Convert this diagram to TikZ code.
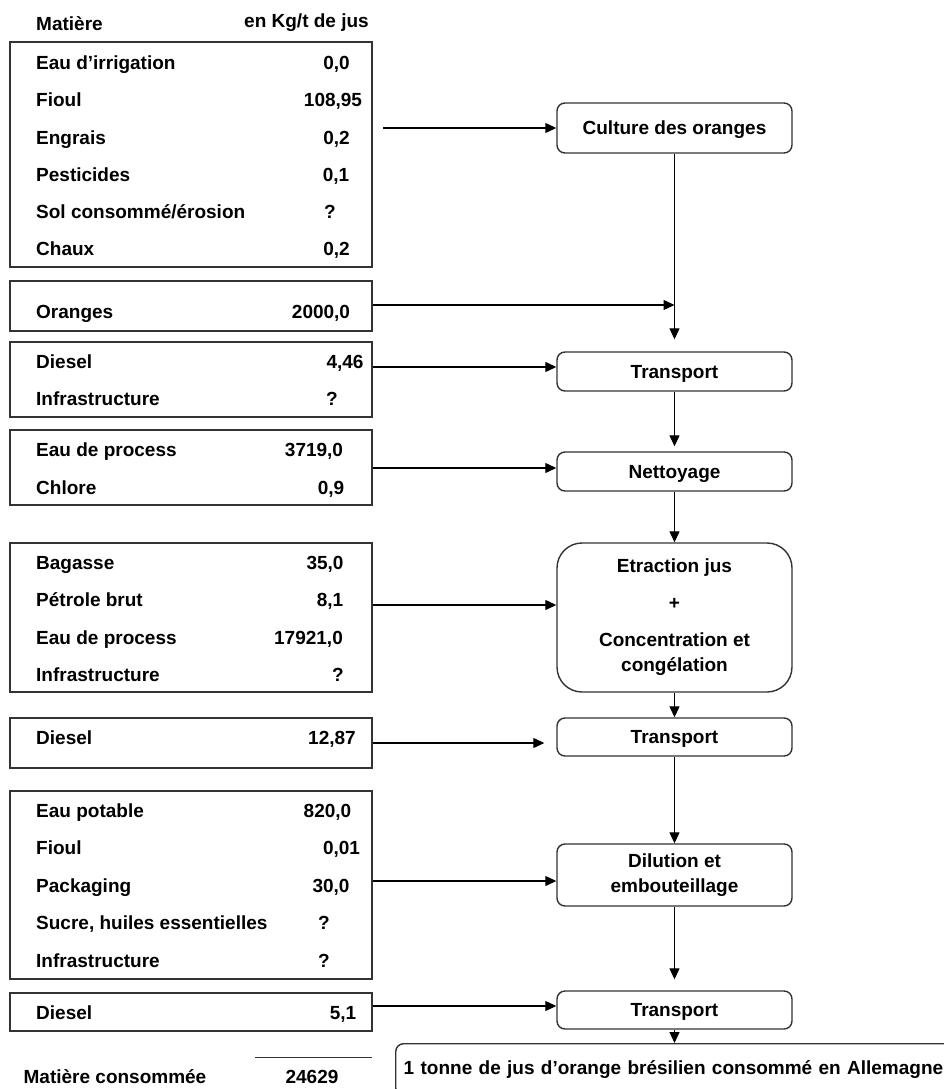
\documentclass[tikz,border=0pt]{standalone}
\usepackage{fontspec}
\setmainfont{Liberation Sans}
\usetikzlibrary{arrows.meta}
\begin{document}
\begin{tikzpicture}[x=1pt,y=-1pt,
  font=\fontsize{19}{23}\selectfont\bfseries,
  inbox/.style={draw=black!80, line width=1.4pt, minimum width=362pt, inner sep=0pt},
  proc/.style={draw=black!80, line width=1.4pt, rounded corners=8pt, minimum width=235pt, inner sep=0pt, align=center},
  oneline/.style={text height=13.6pt, text depth=0pt},
  lab/.style={anchor=west, inner sep=0pt, text height=13.6pt, text depth=0pt},
  val/.style={inner sep=0pt, text height=13.6pt, text depth=0pt},
  arr/.style={line width=1.2pt, -{Triangle[length=11pt,width=10pt]}},
]
\useasboundingbox (0,0) rectangle (944,1089);
\clip (0,0) rectangle (944,1089);

% headers
\node[lab] (hmat) at (36,24) {Matière};
\node[val] (hunit) at (306.5,21) {en Kg/t de jus};

% input boxes
\node[inbox, minimum height=225pt] (b1) at (191,154.5) {};
\node[inbox, minimum height=50pt] (b2) at (191,306) {};
\node[inbox, minimum height=75pt] (b3) at (191,379.5) {};
\node[inbox, minimum height=75pt] (b4) at (191,467.5) {};
\node[inbox, minimum height=149pt] (b5) at (191,617.5) {};
\node[inbox, minimum height=50pt] (b6) at (191,743) {};
\node[inbox, minimum height=188pt] (b7) at (191,885) {};
\node[inbox, minimum height=38pt] (b8) at (191,1012) {};

% box 1
\node[lab] (l11) at (36,63) {Eau d’irrigation};   \node[val] (v11) at (336.5,63) {0,0};
\node[lab] (l12) at (36,100) {Fioul};             \node[val] (v12) at (333,100) {108,95};
\node[lab] (l13) at (36,138) {Engrais};           \node[val] (v13) at (336.5,138) {0,2};
\node[lab] (l14) at (36,175) {Pesticides};        \node[val] (v14) at (336,175) {0,1};
\node[lab] (l15) at (36,212) {Sol consommé/érosion}; \node[val] (v15) at (330,212) {?};
\node[lab] (l16) at (36,249) {Chaux};             \node[val] (v16) at (336.5,249) {0,2};
% box 2
\node[lab] (l21) at (36,312) {Oranges};           \node[val] (v21) at (321,312) {2000,0};
% box 3
\node[lab] (l31) at (36,362) {Diesel};            \node[val] (v31) at (345,362) {4,46};
\node[lab] (l32) at (36,399) {Infrastructure};    \node[val] (v32) at (332,399) {?};
% box 4
\node[lab] (l41) at (36,450) {Eau de process};    \node[val] (v41) at (314,450) {3719,0};
\node[lab] (l42) at (36,488) {Chlore};            \node[val] (v42) at (331,488) {0,9};
% box 5
\node[lab] (l51) at (36,563) {Bagasse};           \node[val] (v51) at (325,563) {35,0};
\node[lab] (l52) at (36,600) {Pétrole brut};      \node[val] (v52) at (330,600) {8,1};
\node[lab] (l53) at (36,638) {Eau de process};    \node[val] (v53) at (308.5,638) {17921,0};
\node[lab] (l54) at (36,675) {Infrastructure};    \node[val] (v54) at (338,675) {?};
% box 6
\node[lab] (l61) at (36,738) {Diesel};            \node[val] (v61) at (332,738) {12,87};
% box 7
\node[lab] (l71) at (36,811) {Eau potable};       \node[val] (v71) at (327.5,811) {820,0};
\node[lab] (l72) at (36,848) {Fioul};             \node[val] (v72) at (341.5,848) {0,01};
\node[lab] (l73) at (36,886) {Packaging};         \node[val] (v73) at (331,886) {30,0};
\node[lab] (l74) at (36,923) {Sucre, huiles essentielles}; \node[val] (v74) at (324,923) {?};
\node[lab] (l75) at (36,961) {Infrastructure};    \node[val] (v75) at (324,961) {?};
% box 8
\node[lab] (l81) at (36,1013) {Diesel};           \node[val] (v81) at (343,1013) {5,1};

% total
\draw[line width=1pt, black!80] (255,1057) -- (372,1057);
\node[val] (tot) at (115,1077) {Matière consommée};
\node[val] (totv) at (312,1077) {24629};

% process boxes
\node[proc, oneline, minimum height=50pt] (cult) at (674.5,128) {Culture des oranges};
\node[proc, oneline, minimum height=39pt] (t1) at (674.5,371.5) {Transport};
\node[proc, oneline, minimum height=39pt] (net) at (674.5,471.5) {Nettoyage};
\node[proc, minimum height=149pt, rounded corners=25pt] (ex) at (674.5,617.5)
  {Etraction jus\\[14pt]+\\[14pt]Concentration et\\[2pt]congélation};
\node[proc, oneline, minimum height=38pt] (t2) at (674.5,737) {Transport};
\node[proc, minimum height=62pt] (dil) at (674.5,875) {Dilution et\\[2pt]embouteillage};
\node[proc, oneline, minimum height=38pt] (t3) at (674.5,1010) {Transport};
\node[draw=black!80, line width=1.4pt, rounded corners=8pt, anchor=north west,
  text width=584pt, inner sep=8pt, minimum height=52pt, align=left] (fin) at (395,1043)
  {1 tonne de jus d’orange brésilien consommé en Allemagne};

% connectors
\coordinate (a1) at (383,128);
\coordinate (j) at (674.5,305);
\draw[arr] (a1) -- (cult.west);
\draw[arr] (b2.east |- j) -- (j);
\draw[arr, shorten >=12pt] (cult.south) -- (t1.north);
\draw[arr] ([yshift=12.5pt]b3.east) -- ([yshift=4.5pt]t1.west);
\draw[arr, shorten >=5pt] (t1.south) -- (net.north);
\draw[arr] ([yshift=-0.5pt]b4.east) -- ([yshift=3.5pt]net.west);
\draw[arr] (net.south) -- (ex.north);
\draw[arr] ([yshift=12.5pt]b5.east) -- ([yshift=12.5pt]ex.west);
\draw[arr] (ex.south) -- (t2.north);
\draw[arr, shorten >=12pt] (b6.east) -- ([yshift=-6pt]t2.west);
\draw[arr] (t2.south) -- (dil.north);
\draw[arr] ([yshift=4pt]b7.east) -- ([yshift=-6pt]dil.west);
\draw[arr, shorten >=11pt] (dil.south) -- (t3.north);
\draw[arr] ([yshift=6pt]b8.east) -- ([yshift=4pt]t3.west);
\draw[arr] (t3.south) -- (t3.south |- fin.north);
\end{tikzpicture}
\end{document}
